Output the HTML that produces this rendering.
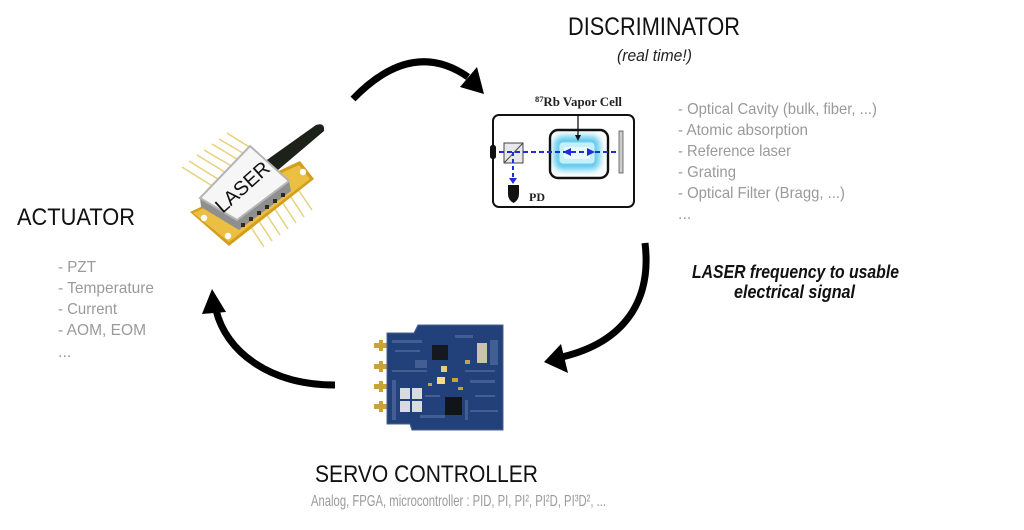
<!DOCTYPE html>
<html><head><meta charset="utf-8"><style>
html,body{margin:0;padding:0;background:#fff;}
svg{display:block;}
text{font-family:"Liberation Sans",sans-serif;}
.g{fill:#9a9a9a;}
.t{fill:#111;}
.sf{font-family:"Liberation Serif",serif;font-weight:bold;fill:#222;}
</style></head><body>
<svg width="1024" height="530" viewBox="0 0 1024 530" xmlns="http://www.w3.org/2000/svg">
<defs>
<filter id="blur" x="-50%" y="-50%" width="200%" height="200%"><feGaussianBlur stdDeviation="3.5"/></filter>
</defs>

<!-- Titles -->
<text class="t" x="568" y="35" font-size="25" textLength="172" lengthAdjust="spacingAndGlyphs">DISCRIMINATOR</text>
<text x="617" y="61" font-size="17" font-style="italic" fill="#222" textLength="75" lengthAdjust="spacingAndGlyphs">(real time!)</text>

<text class="t" x="17" y="225" font-size="24" textLength="118" lengthAdjust="spacingAndGlyphs">ACTUATOR</text>
<text class="t" x="315" y="482" font-size="24" textLength="223" lengthAdjust="spacingAndGlyphs">SERVO CONTROLLER</text>
<text class="g" x="311" y="506" font-size="16" textLength="295" lengthAdjust="spacingAndGlyphs">Analog, FPGA, microcontroller : PID, PI, PI², PI²D, PI³D², ...</text>

<!-- Discriminator list -->
<text class="g" x="678" y="114" font-size="16" textLength="199" lengthAdjust="spacingAndGlyphs">- Optical Cavity (bulk, fiber, ...)</text>
<text class="g" x="678" y="135" font-size="16" textLength="130" lengthAdjust="spacingAndGlyphs">- Atomic absorption</text>
<text class="g" x="678" y="156" font-size="16" textLength="113" lengthAdjust="spacingAndGlyphs">- Reference laser</text>
<text class="g" x="678" y="177" font-size="16" textLength="58" lengthAdjust="spacingAndGlyphs">- Grating</text>
<text class="g" x="678" y="198" font-size="16" textLength="167" lengthAdjust="spacingAndGlyphs">- Optical Filter (Bragg, ...)</text>
<text class="g" x="678" y="219" font-size="16">...</text>

<!-- Actuator list -->
<text class="g" x="58" y="272" font-size="16" textLength="38" lengthAdjust="spacingAndGlyphs">- PZT</text>
<text class="g" x="58" y="293" font-size="16" textLength="96" lengthAdjust="spacingAndGlyphs">- Temperature</text>
<text class="g" x="58" y="314" font-size="16" textLength="59" lengthAdjust="spacingAndGlyphs">- Current</text>
<text class="g" x="58" y="335" font-size="16" textLength="88" lengthAdjust="spacingAndGlyphs">- AOM, EOM</text>
<text class="g" x="58" y="357" font-size="16">...</text>

<!-- LASER frequency label -->
<text x="692" y="278" font-size="18" font-weight="bold" font-style="italic" fill="#111" textLength="207" lengthAdjust="spacingAndGlyphs">LASER frequency to usable</text>
<text x="734" y="298" font-size="18" font-weight="bold" font-style="italic" fill="#111" textLength="121" lengthAdjust="spacingAndGlyphs">electrical signal</text>

<!-- Arrows -->
<path d="M353,99 Q412,38 468,77" fill="none" stroke="#000" stroke-width="7"/>
<polygon points="484,94 460,87 477,67" fill="#000"/>

<path d="M645,243 C652,300 625,342 562,357" fill="none" stroke="#000" stroke-width="7"/>
<polygon points="544,362 561,344 568,373" fill="#000"/>

<path d="M335,385 C270,385 226,352 216,310" fill="none" stroke="#000" stroke-width="7"/>
<polygon points="212,289 202,314 226,312" fill="#000"/>

<!-- Discriminator diagram -->
<text class="sf" x="535" y="106" font-size="13" textLength="87" lengthAdjust="spacingAndGlyphs"><tspan font-size="8.5" dy="-4">87</tspan><tspan dy="4">Rb Vapor Cell</tspan></text>
<rect x="493" y="115" width="141" height="92" rx="6" fill="none" stroke="#111" stroke-width="2"/>
<rect x="554" y="136" width="46" height="34" rx="8" fill="#58c8ee" filter="url(#blur)"/>
<rect x="550" y="130" width="58" height="48" rx="8" fill="none" stroke="#111" stroke-width="2.4"/>
<rect x="559" y="142" width="36" height="22" rx="4" fill="#c4f0fc" stroke="#7ad0ea" stroke-width="1"/>
<rect x="564" y="147" width="26" height="12" rx="2" fill="#eafaff"/>
<rect x="619" y="131" width="4" height="42" fill="#ccc" stroke="#555" stroke-width="0.8"/>
<line x1="578" y1="115" x2="578" y2="136" stroke="#111" stroke-width="1.3"/>
<polygon points="575,135 581,135 578,141" fill="#111"/>
<rect x="504" y="143" width="19" height="20" fill="#e8e8e8" stroke="#444" stroke-width="1"/>
<line x1="504" y1="163" x2="523" y2="143" stroke="#444" stroke-width="1"/>
<line x1="491" y1="152" x2="619" y2="152" stroke="#1f2fd8" stroke-width="2" stroke-dasharray="5,3"/>
<polygon points="563,152 571,148 571,156" fill="#1f2fd8"/>
<polygon points="595,152 587,148 587,156" fill="#1f2fd8"/>
<line x1="513" y1="152" x2="513" y2="180" stroke="#1f2fd8" stroke-width="2" stroke-dasharray="4,3"/>
<polygon points="509,178 517,178 513,184" fill="#1f2fd8"/>
<rect x="490" y="145" width="6" height="14" rx="2.5" fill="#111"/>
<path d="M508,185 L519,185 L519,194 Q519,200 513.5,203 Q508,200 508,194 Z" fill="#111"/>
<text class="sf" x="529" y="201" font-size="12">PD</text>

<!-- Laser module -->
<g>
<g stroke="#e6d27a" stroke-width="1.5">
<line x1="182" y1="167" x2="214" y2="187"/>
<line x1="189" y1="161" x2="221" y2="181"/>
<line x1="197" y1="155" x2="228" y2="174"/>
<line x1="204" y1="150" x2="235" y2="168"/>
<line x1="212" y1="144" x2="242" y2="162"/>
<line x1="219" y1="139" x2="248" y2="156"/>
<line x1="227" y1="133" x2="254" y2="150"/>
<line x1="245" y1="218" x2="264" y2="247"/>
<line x1="253" y1="212" x2="272" y2="241"/>
<line x1="261" y1="206" x2="280" y2="235"/>
<line x1="269" y1="200" x2="288" y2="229"/>
<line x1="277" y1="194" x2="296" y2="223"/>
<line x1="285" y1="188" x2="304" y2="217"/>
<line x1="293" y1="182" x2="312" y2="210"/>
</g>
<polygon points="190,212 229,246 314,179 300,161" fill="#d39e1c"/>
<polygon points="193,213 229,242 310,179 299,165" fill="#ebbf42"/>
<circle cx="204" cy="218" r="3.2" fill="#fff"/>
<circle cx="228" cy="236" r="3.2" fill="#fff"/>
<circle cx="303" cy="172" r="3.2" fill="#fff"/>
<path d="M264,162 L316,125 Q325,122 324,131 L278,170 Z" fill="#1c2219"/>
<polygon points="200,198 237,220 289,181 291,191 239,230 201,207" fill="#8f8f8f"/>
<g fill="#2a2a2a"><rect x="241" y="223" width="4" height="4"/><rect x="249" y="217" width="4" height="4"/><rect x="257" y="211" width="4" height="4"/><rect x="265" y="205" width="4" height="4"/><rect x="273" y="199" width="4" height="4"/><rect x="281" y="193" width="4" height="4"/></g>
<polygon points="200,198 250,146 289,181 237,220" fill="#f6f6f6" stroke="#b5b5b5" stroke-width="2"/>
<text x="0" y="0" font-size="20" fill="#111" text-anchor="middle" transform="translate(247,192) rotate(-42)">LASER</text>
</g>

<!-- Servo board -->
<g>
<g fill="#c9a23a">
<rect x="374" y="343" width="14" height="5"/><rect x="374" y="364" width="14" height="5"/>
<rect x="374" y="384" width="14" height="5"/><rect x="374" y="404" width="14" height="5"/>
<rect x="379" y="340" width="4" height="11"/><rect x="379" y="361" width="4" height="11"/>
<rect x="379" y="381" width="4" height="11"/><rect x="379" y="401" width="4" height="11"/>
</g>
<path d="M418,325 L503,325 L503,430 L412,430 L410,424 L387,424 L387,333 L414,333 Z" fill="#22407a"/>
<path d="M418,325 L503,325 L503,430 L412,430 L410,424 L387,424 L387,333 L414,333 Z" fill="none" stroke="#4a6090" stroke-width="1"/>
<g fill="#4a6698" opacity="0.8">
<rect x="392" y="340" width="30" height="3"/><rect x="395" y="350" width="25" height="2"/>
<rect x="455" y="335" width="18" height="3"/><rect x="465" y="370" width="30" height="2"/>
<rect x="470" y="380" width="25" height="3"/><rect x="475" y="395" width="20" height="2"/>
<rect x="392" y="370" width="35" height="2"/><rect x="420" y="415" width="25" height="3"/>
<rect x="470" y="410" width="28" height="2"/><rect x="415" y="360" width="12" height="8"/>
<rect x="392" y="380" width="4" height="40"/><rect x="425" y="395" width="15" height="2"/>
<rect x="465" y="400" width="3" height="20"/><rect x="490" y="340" width="8" height="25"/>
</g>
<rect x="432" y="345" width="16" height="15" fill="#15181f"/>
<rect x="445" y="397" width="17" height="18" fill="#111419"/>
<rect x="400" y="388" width="10" height="11" fill="#d8dbe0"/><rect x="412" y="388" width="10" height="11" fill="#d8dbe0"/>
<rect x="400" y="401" width="10" height="11" fill="#d8dbe0"/><rect x="412" y="401" width="10" height="11" fill="#d8dbe0"/>
<rect x="477" y="343" width="10" height="20" fill="#c8c4a8"/>
<rect x="441" y="366" width="6" height="6" fill="#e6cf7c"/>
<rect x="437" y="377" width="8" height="7" fill="#f0dc8a"/>
<rect x="452" y="378" width="6" height="4" fill="#c9a23a"/><rect x="458" y="387" width="5" height="3" fill="#c9a23a"/>
<rect x="428" y="383" width="4" height="3" fill="#c9a23a"/><rect x="465" y="360" width="5" height="4" fill="#c9a23a"/>
</g>
</svg>
</body></html>
